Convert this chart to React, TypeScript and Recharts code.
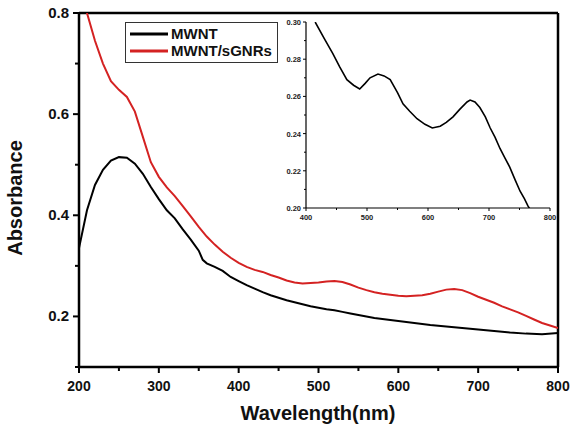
import React from "react";
import { LineChart, Line, XAxis, YAxis, ReferenceLine, Legend } from "recharts";

// MWNT spectrum (nm, absorbance)
const mwntNm = [
  200, 210, 220, 230, 240, 250, 260, 270, 280, 290, 300, 310, 320, 330, 340,
  350, 355, 360, 370, 380, 390, 400, 410, 420, 430, 440, 450, 460, 470, 480,
  490, 500, 510, 520, 530, 540, 550, 560, 570, 580, 590, 600, 620, 640, 660,
  680, 700, 720, 740, 760, 780, 800,
];
const mwntAbs = [
  0.335, 0.41, 0.46, 0.49, 0.508, 0.515, 0.514, 0.502, 0.482, 0.456, 0.432,
  0.41, 0.394, 0.372, 0.352, 0.33, 0.312, 0.305, 0.298, 0.29, 0.278, 0.27,
  0.262, 0.255, 0.248, 0.242, 0.237, 0.232, 0.228, 0.224, 0.22, 0.217, 0.214,
  0.212, 0.209, 0.206, 0.203, 0.2, 0.197, 0.195, 0.193, 0.191, 0.187, 0.183,
  0.18, 0.177, 0.174, 0.171, 0.168, 0.166, 0.165, 0.167,
];

// MWNT/sGNRs spectrum
const hybridNm = [
  200, 210, 220, 230, 240, 250, 260, 270, 280, 290, 300, 310, 320, 330, 340,
  350, 360, 370, 380, 390, 400, 410, 420, 430, 440, 450, 460, 470, 480, 490,
  500, 510, 520, 530, 540, 550, 560, 570, 580, 590, 600, 610, 620, 630, 640,
  650, 660, 670, 680, 690, 700, 710, 720, 730, 740, 750, 760, 770, 780, 790,
  800,
];
const hybridAbs = [
  0.87, 0.8, 0.745, 0.7, 0.665, 0.648, 0.634, 0.605, 0.555, 0.505, 0.476,
  0.455, 0.438, 0.418, 0.398, 0.377, 0.358, 0.342, 0.328, 0.316, 0.306, 0.298,
  0.292, 0.288, 0.282, 0.277, 0.271, 0.267, 0.265, 0.266, 0.267, 0.269, 0.27,
  0.268, 0.263, 0.257, 0.252, 0.248, 0.245, 0.243, 0.241, 0.24, 0.241, 0.242,
  0.245, 0.249, 0.253, 0.254, 0.252, 0.246, 0.239, 0.233, 0.227, 0.22, 0.214,
  0.208, 0.201, 0.194, 0.187, 0.182, 0.177,
];

// inset: MWNT/sGNRs zoomed
const insetNm = [
  415, 430, 444, 455, 467, 478, 488, 497, 505, 518, 528, 538, 550, 559, 570,
  582, 595, 607, 620, 630, 641, 652, 664, 669, 677, 685, 694, 702, 710, 718,
  726, 734, 743, 751, 758, 764, 768,
];
const insetAbs = [
  0.3, 0.291, 0.283, 0.276, 0.269, 0.266, 0.264, 0.267, 0.27, 0.272, 0.271,
  0.269, 0.262, 0.256, 0.252, 0.248, 0.245, 0.243, 0.244, 0.246, 0.249, 0.253,
  0.257, 0.258, 0.257, 0.254, 0.249, 0.243, 0.238, 0.232, 0.227, 0.222, 0.215,
  0.209, 0.205, 0.201, 0.199,
];

const mainXTicks = [200, 250, 300, 350, 400, 450, 500, 550, 600, 650, 700, 750, 800];
const mainYTicks = [0.1, 0.2, 0.3, 0.4, 0.5, 0.6, 0.7, 0.8];
const insetXTicks = [400, 450, 500, 550, 600, 650, 700, 750, 800];
const insetYTicks = [0.2, 0.21, 0.22, 0.23, 0.24, 0.25, 0.26, 0.27, 0.28, 0.29, 0.3];

const FONT = "'Liberation Sans', Arial, sans-serif";
const RED = "#d42222";

const mwntData = mwntNm.map((nm, i) => ({ nm, abs: mwntAbs[i] }));
const hybridData = hybridNm.map((nm, i) => ({ nm, abs: hybridAbs[i] }));
const insetData = insetNm.map((nm, i) => ({ nm, abs: insetAbs[i] }));

function MainXTick({ x, y, payload }: any) {
  const major = payload.value % 100 === 0;
  return (
    <g>
      <line x1={x} x2={x} y1={y} y2={y + (major ? 6 : 4)} stroke="#000" strokeWidth={2} />
      {major && (
        <text x={x} y={y + 24} textAnchor="middle" fontFamily={FONT} fontWeight="bold" fontSize={14} fill="#111">
          {payload.value}
        </text>
      )}
    </g>
  );
}

function MainYTick({ x, y, payload }: any) {
  const major = Math.round(payload.value * 10) % 2 === 0;
  return (
    <g>
      <line x1={x} x2={x - (major ? 6 : 4)} y1={y} y2={y} stroke="#000" strokeWidth={2} />
      {major && (
        <text x={x - 10} y={y + 5} textAnchor="end" fontFamily={FONT} fontWeight="bold" fontSize={15} fill="#111">
          {payload.value.toFixed(1)}
        </text>
      )}
    </g>
  );
}

function InsetXTick({ x, y, payload }: any) {
  const major = payload.value % 100 === 0;
  return (
    <g>
      <line x1={x} x2={x} y1={y} y2={y + (major ? 3 : 2)} stroke="#000" strokeWidth={1} />
      {major && (
        <text x={x} y={y + 12} textAnchor="middle" fontFamily={FONT} fontWeight="bold" fontSize={7.5} fill="#222">
          {payload.value}
        </text>
      )}
    </g>
  );
}

function InsetYTick({ x, y, payload }: any) {
  const major = Math.round(payload.value * 100) % 2 === 0;
  return (
    <g>
      <line x1={x} x2={x - (major ? 3 : 2)} y1={y} y2={y} stroke="#000" strokeWidth={1} />
      {major && (
        <text x={x - 5} y={y + 3} textAnchor="end" fontFamily={FONT} fontWeight="bold" fontSize={7.5} fill="#222">
          {payload.value.toFixed(2)}
        </text>
      )}
    </g>
  );
}

function LegendBox() {
  const rows = [
    { name: "MWNT", color: "#000" },
    { name: "MWNT/sGNRs", color: RED },
  ];
  return (
    <div
      style={{
        border: "1px solid #333",
        background: "#fff",
        boxSizing: "border-box",
        width: 153,
        height: 41,
        paddingTop: 2,
      }}
    >
      {rows.map((r) => (
        <div key={r.name} style={{ display: "flex", alignItems: "center", height: 17 }}>
          <svg width={45} height={17}>
            <line x1={4} x2={42} y1={9} y2={9} stroke={r.color} strokeWidth={3} />
          </svg>
          <span style={{ fontFamily: FONT, fontWeight: "bold", fontSize: 15, color: "#111" }}>{r.name}</span>
        </div>
      ))}
    </div>
  );
}

export default function App() {
  return (
    <div style={{ position: "absolute", left: 0, top: 0, width: 578, height: 433, background: "#fff" }}>
      <LineChart width={578} height={433} margin={{ top: 13, right: 20, bottom: 36, left: 29 }}>
        <XAxis
          type="number"
          dataKey="nm"
          domain={[200, 800]}
          ticks={mainXTicks}
          allowDataOverflow
          height={30}
          tickSize={0}
          tickMargin={0}
          tickLine={false}
          axisLine={{ stroke: "#000", strokeWidth: 2.5 }}
          tick={<MainXTick />}
          interval={0}
          label={{
            content: () => (
              <text x={318} y={420} textAnchor="middle" fontFamily={FONT} fontWeight="bold" fontSize={20} fill="#111">
                Wavelength(nm)
              </text>
            ),
          }}
        />
        <YAxis
          type="number"
          dataKey="abs"
          domain={[0.1, 0.8]}
          ticks={mainYTicks}
          allowDataOverflow
          width={50}
          tickSize={0}
          tickMargin={0}
          tickLine={false}
          axisLine={{ stroke: "#000", strokeWidth: 2.5 }}
          tick={<MainYTick />}
          interval={0}
          label={{
            content: () => (
              <text
                x={22}
                y={198}
                transform="rotate(-90 22 198)"
                textAnchor="middle"
                fontFamily={FONT}
                fontWeight="bold"
                fontSize={20}
                fill="#111"
              >
                Absorbance
              </text>
            ),
          }}
        />
        <ReferenceLine y={0.8} stroke="#000" strokeWidth={2.5} />
        <ReferenceLine x={800} stroke="#000" strokeWidth={2.5} />
        <Line
          data={mwntData}
          dataKey="abs"
          type="linear"
          stroke="#000"
          strokeWidth={2}
          dot={false}
          isAnimationActive={false}
        />
        <Line
          data={hybridData}
          dataKey="abs"
          type="linear"
          stroke={RED}
          strokeWidth={2}
          dot={false}
          isAnimationActive={false}
        />
        <Legend
          layout="horizontal"
          verticalAlign="middle"
          align="center"
          content={<LegendBox />}
          wrapperStyle={{ position: "absolute", left: 125, top: 22, width: 153, height: 41 }}
        />
      </LineChart>
      <div style={{ position: "absolute", left: 270, top: 10 }}>
        <LineChart width={290} height={212} data={insetData} margin={{ top: 12, right: 10, bottom: 2, left: 10 }}>
          <XAxis
            type="number"
            dataKey="nm"
            domain={[400, 800]}
            ticks={insetXTicks}
            allowDataOverflow
            height={12}
            tickSize={0}
            tickMargin={0}
            tickLine={false}
            axisLine={{ stroke: "#000", strokeWidth: 1.2 }}
            tick={<InsetXTick />}
            interval={0}
          />
          <YAxis
            type="number"
            dataKey="abs"
            domain={[0.2, 0.3]}
            ticks={insetYTicks}
            allowDataOverflow
            width={26}
            tickSize={0}
            tickMargin={0}
            tickLine={false}
            axisLine={{ stroke: "#000", strokeWidth: 1.2 }}
            tick={<InsetYTick />}
            interval={0}
          />
          <Line dataKey="abs" type="linear" stroke="#000" strokeWidth={1.6} dot={false} isAnimationActive={false} />
        </LineChart>
      </div>
    </div>
  );
}
